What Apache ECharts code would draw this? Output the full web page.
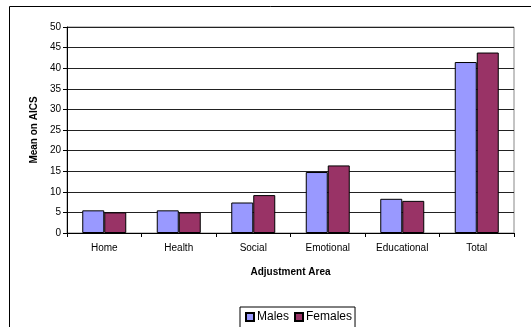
<!DOCTYPE html>
<html>
<head>
<meta charset="utf-8">
<script src="https://cdn.jsdelivr.net/npm/echarts@6/dist/echarts.min.js"></script>
<style>
  html, body { margin: 0; padding: 0; background: #fff; }
  #chart { width: 531px; height: 327px; }
</style>
</head>
<body>
<div id="chart"></div>
<script>
// Mean AICS scores by adjustment area, split by sex
const categories = ['Home', 'Health', 'Social', 'Emotional', 'Educational', 'Total'];
const males = [5.5, 5.5, 7.4, 14.8, 8.3, 41.5];
const females = [5.0, 5.0, 9.2, 16.4, 7.8, 43.8];
const yTicks = [0, 5, 10, 15, 20, 25, 30, 35, 40, 45, 50];

const font = 'Liberation Sans, Arial, sans-serif';
const chart = echarts.init(document.getElementById('chart'), null, { renderer: 'canvas' });

chart.setOption({
  animation: false,
  backgroundColor: '#fff',
  graphic: [{
    type: 'rect',
    shape: { x: 9.5, y: 6.5, width: 600, height: 400 },
    style: { fill: 'none', stroke: '#000', lineWidth: 1 },
    silent: true, z: -10
  }],
  grid: {
    left: 67, right: 17, top: 27, bottom: 94,
    show: true, borderColor: '#888', borderWidth: 1, backgroundColor: '#fff'
  },
  legend: {
    data: ['Males', 'Females'],
    left: 240, top: 307,
    orient: 'horizontal',
    icon: 'rect',
    itemWidth: 8, itemHeight: 8, itemGap: 5,
    padding: [4, 3, 6, 5],
    borderColor: '#000', borderWidth: 1,
    textStyle: { fontFamily: font, fontSize: 12, color: '#000', padding: [0, 0, 0, -2] }
  },
  xAxis: {
    type: 'category',
    data: categories,
    name: 'Adjustment Area',
    nameLocation: 'middle',
    nameGap: 34,
    nameTextStyle: { fontFamily: font, fontSize: 10, fontWeight: 'bold', color: '#000' },
    axisLine: { lineStyle: { color: '#000', width: 1 } },
    axisTick: { show: true, length: 4, lineStyle: { color: '#000' } },
    axisLabel: { fontFamily: font, fontSize: 10, color: '#000', margin: 10 }
  },
  yAxis: {
    type: 'value',
    min: 0, max: 50, interval: 5,
    name: 'Mean on AICS',
    nameLocation: 'middle',
    nameGap: 27,
    nameTextStyle: { fontFamily: font, fontSize: 10, fontWeight: 'bold', color: '#000' },
    axisLine: { show: true, lineStyle: { color: '#000', width: 1 } },
    axisTick: { show: true, length: 4, lineStyle: { color: '#000' } },
    axisLabel: {
      fontFamily: font, fontSize: 10, color: '#000', margin: 6,
      formatter: v => (yTicks.includes(v) ? String(v) : '')
    },
    splitLine: { show: true, lineStyle: { color: '#222', width: 1 } }
  },
  series: [
    {
      name: 'Males', type: 'bar', data: males,
      barWidth: 22, barGap: '0%',
      itemStyle: { color: '#9999FF', borderColor: '#000', borderWidth: 1 }
    },
    {
      name: 'Females', type: 'bar', data: females,
      barWidth: 22,
      itemStyle: { color: '#993366', borderColor: '#000', borderWidth: 1 }
    }
  ]
});
</script>
</body>
</html>
